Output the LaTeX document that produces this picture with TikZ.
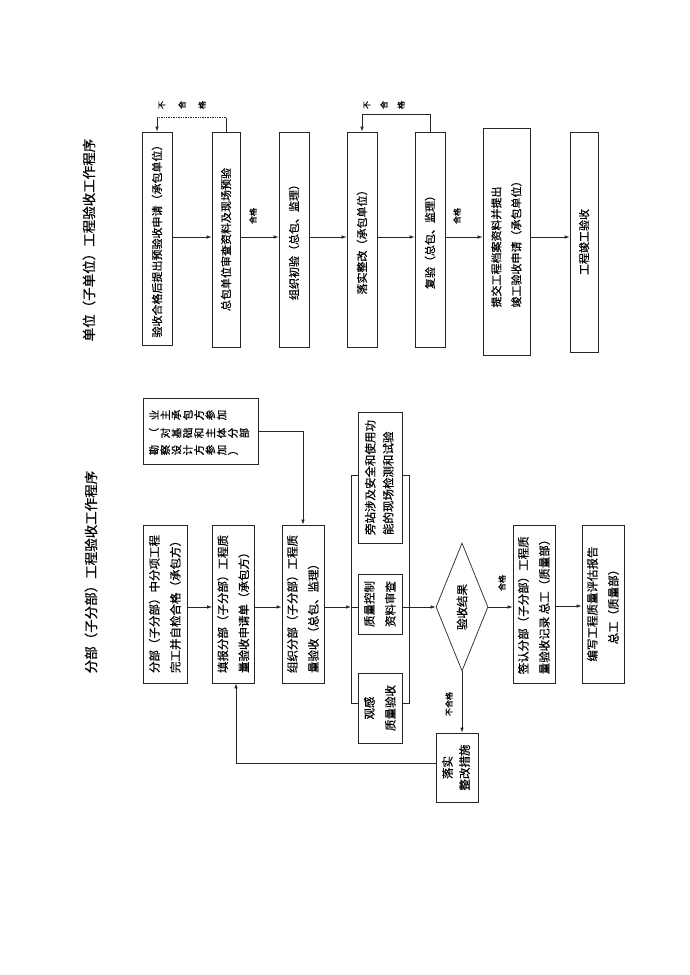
\documentclass[tikz,border=0pt]{standalone}
\usepackage{fontspec}
\setmainfont{Noto Sans CJK SC}[FakeBold=0.5]
\usepackage{graphicx}
\usetikzlibrary{arrows.meta,shapes.geometric}
\newcommand\rtxt[1]{\rotatebox{90}{#1}}
\newcommand\rtwol[2]{\rotatebox{90}{\begin{tabular}{@{}l@{}}#1\\#2\end{tabular}}}
\newcommand\rtwoc[2]{\rotatebox{90}{\begin{tabular}{@{}c@{}}#1\\#2\end{tabular}}}
\newcommand\rch[1]{\makebox[11.3pt]{\rotatebox{90}{#1}}}
\begin{document}
\begin{tikzpicture}[x=1pt,y=-1pt,
 box/.style={draw=black!85, line width=0.7pt, inner sep=0pt, font=\fontsize{11}{20}\selectfont},
 bbox/.style={box, font=\fontsize{11.5}{21}\selectfont},
 arr/.style={draw=black!85, line width=0.7pt, -{Latex[length=5pt,width=3.5pt]}},
 ln/.style={draw=black!85, line width=0.7pt},
 lbl/.style={rotate=90, inner sep=0pt, font=\fontsize{8}{9}\selectfont},
 vrow/.style={anchor=west, inner sep=0pt, font=\fontsize{10.5}{12}\selectfont},
 ttl/.style={rotate=90, inner sep=0pt, font=\fontsize{13.5}{15}\selectfont}]
\fill[white] (0,0) rectangle (690,975);
\useasboundingbox (0,0) rectangle (690,975);

% ---------- top: unit acceptance ----------
\node[ttl] (tt) at (89,240) {单位（子单位）工程验收工作程序};
\node[box, minimum width=30pt, minimum height=213pt] (t1) at (157,238.5) {\rtxt{验收合格后提出预验收申请（承包单位）}};
\node[box, minimum width=28pt, minimum height=215pt] (t2) at (226,239.5) {\rtxt{总包单位审查资料及现场预验}};
\node[box, minimum width=30pt, minimum height=215pt] (t3) at (294,239.5) {\rtxt{组织初验（总包、监理）}};
\node[box, minimum width=30pt, minimum height=215pt] (t4) at (362,239.5) {\rtxt{落实整改（承包单位）}};
\node[box, minimum width=30pt, minimum height=215pt] (t5) at (430,239.5) {\rtxt{复验（总包、监理）}};
\node[box, minimum width=47pt, minimum height=227pt] (t6) at (506.5,241.5) {\rtwol{提交工程档案资料并提出}{竣工验收申请（承包单位）}};
\node[box, minimum width=28pt, minimum height=220pt] (t7) at (584,242) {\rtxt{工程竣工验收}};

\coordinate (ya) at (0,237);
\foreach \a/\b in {t1/t2,t2/t3,t3/t4,t4/t5,t5/t6,t6/t7}
  \draw[arr] (\a.east |- ya) -- (\b.west |- ya);

\draw[line width=1.4pt, black!85] (t2.east |- 0,178) -- (t2.east |- ya);
\draw[line width=1.4pt, black!85] (t5.east |- 0,177) -- (t5.east |- ya);

\draw[ln] (t2.north) -- ++(0,-14) coordinate (l1a);
\coordinate (l1b) at (l1a -| t1.north);
\draw[ln, densely dotted] (l1a) -- (l1b);
\draw[arr] (l1b) -- (t1.north);
\draw[arr] (t5.north) -- ++(0,-17) -| (t4.north);

\node[lbl] (n1a) at (162,105) {不};
\node[lbl] (n1b) at (182,105) {合};
\node[lbl] (n1c) at (202,105) {格};
\node[lbl] (n2a) at (367,105) {不};
\node[lbl] (n2b) at (384,105) {合};
\node[lbl] (n2c) at (401,105) {格};
\node[lbl] (g1) at (253,216) {合格};
\node[lbl] (g2) at (457,216) {合格};

% ---------- bottom: sub-division acceptance ----------
\node[ttl] (bt0) at (91,572) {分部（子分部）工程验收工作程序};
\node[box, minimum width=115pt, minimum height=66pt] (bt) at (200.5,431) {};
\node[vrow] (ra) at (148,415) {\rch{业}\rch{主}\rch{承}\rch{包}\rch{方}\rch{参}\rch{加}};
\node[vrow] (rb) at (148,433) {\rch{（}\rch{对}\rch{基}\rch{础}\rch{和}\rch{主}\rch{体}\rch{分}\rch{部}};
\node[vrow] (rc) at (148,450) {\rch{勘}\rch{察}\rch{设}\rch{计}\rch{方}\rch{参}\rch{加}\rch{）}};

\node[bbox, minimum width=44pt, minimum height=158pt] (b1) at (165,604) {\rtwol{分部（子分部）中分项工程}{完工并自检合格（承包方）}};
\node[bbox, minimum width=41pt, minimum height=158pt] (b2) at (233.5,604) {\rtwol{填报分部（子分部）工程质}{量验收申请单（承包方）}};
\node[bbox, minimum width=42pt, minimum height=158pt] (b3) at (303,604) {\rtwol{组织分部（子分部）工程质}{量验收（总包、监理）}};

\node[box, font=\fontsize{11.5}{18}\selectfont, minimum width=44pt, minimum height=131pt] (q1) at (380,477.5) {\rtwol{旁站涉及安全和使用功}{能的现场检测和试验}};
\node[bbox, minimum width=44pt, minimum height=60pt] (q2) at (380,604) {\rtwoc{质量控制}{资料审查}};
\node[bbox, minimum width=44pt, minimum height=70pt] (q3) at (380,708) {\rtwoc{观感}{质量验收}};

\node[diamond, draw=black!85, line width=0.7pt, inner sep=0pt, aspect=0.41, minimum width=52pt, minimum height=128pt, font=\fontsize{11.5}{14}\selectfont] (dia) at (462,607) {\rtxt{验收结果}};

\node[bbox, minimum width=42pt, minimum height=158pt] (b4) at (534,604) {\rtwol{签认分部（子分部）工程质}{量验收记录 总工（质量部）}};
\node[bbox, minimum width=42pt, minimum height=158pt] (b5) at (603,604) {\rtwoc{编写工程质量评估报告}{总工（质量部）}};
\node[box, font=\fontsize{11.5}{17}\selectfont, minimum width=42pt, minimum height=69pt] (fx) at (457,767.5) {\rtwoc{落实}{整改措施}};

\coordinate (yb) at (0,607);
\coordinate (yc) at (0,606);
\draw[arr] (b1.east|-yb) -- (b2.west|-yb);
\draw[arr] (b2.east|-yb) -- (b3.west|-yb);
\draw[arr] (bt.east) -| (b3.north);

\coordinate (lm) at (351,607);
\coordinate (rm) at (409,607);
\coordinate (lt) at (351,475);
\coordinate (lb) at (351,703);
\coordinate (rt) at (409,475);
\coordinate (rb) at (409,703);
\draw[arr] (b3.east|-lm) -- (lm);
\draw[ln] (lm) -- (q2.west|-lm);
\draw[ln] (q1.west|-lt) -- (lt) -- (lb) -- (q3.west|-lb);
\draw[ln] (q1.east|-rt) -- (rt) -- (rb) -- (q3.east|-rb);
\draw[ln] (q2.east|-rm) -- (rm);
\draw[arr] (rm) -- (dia.west);
\draw[arr] (dia.east) -- (b4.west|-dia.east);
\draw[arr] (b4.east|-yc) -- (b5.west|-yc);
\draw[arr] (dia.south) -- (dia.south|-fx.north);
\coordinate (fb) at (236,763);
\draw[arr] (fx.west|-fb) -- (fb) -- (fb|-b2.south);

\node[lbl] (g3) at (502,583) {合格};
\node[lbl] (g4) at (449,704) {不合格};
\end{tikzpicture}
\end{document}
